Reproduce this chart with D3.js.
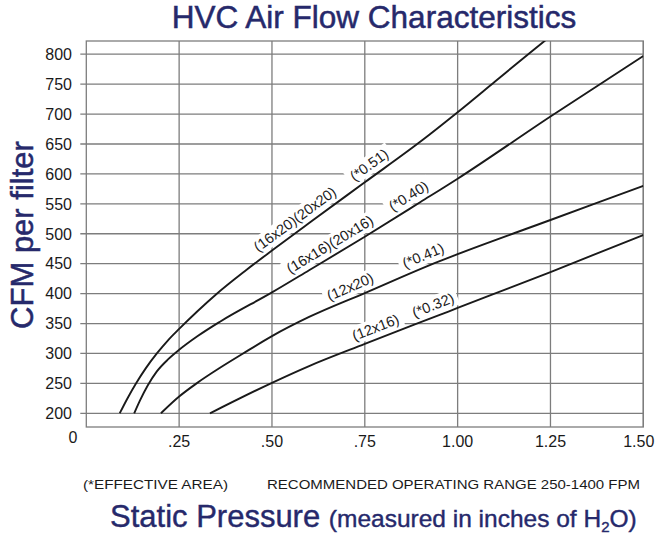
<html>
<head>
<script src="https://cdnjs.cloudflare.com/ajax/libs/d3/7.8.5/d3.min.js"></script>
<style>
    body { margin: 0; background: #fff; }
    svg { display: block; }
    text { font-family: "Liberation Sans", Arial, Helvetica, sans-serif; }
</style>
</head>
<body>
<svg width="657" height="535"></svg>
<script>
// static pressure (in. H2O) vs CFM per filter
const pressureTicks = [0.25, 0.5, 0.75, 1.0, 1.25, 1.5];
const pressureTickLabels = [".25", ".50", ".75", "1.00", "1.25", "1.50"];
const cfmTicks = [200, 250, 300, 350, 400, 450, 500, 550, 600, 650, 700, 750, 800];

const filters = ["(16x20)(20x20)", "(16x16)(20x16)", "(12x20)", "(12x16)"];
const effectiveArea = ["(*0.51)", "(*0.40)", "(*0.41)", "(*0.32)"];

const curve16x20 = [[0.09,200],[0.11,224],[0.135,251],[0.16,275],[0.19,300],[0.22,322],[0.25,341],[0.30,371],[0.35,399],[0.43,439],[0.50,472],[0.60,518],[0.75,586],[0.90,654],[1.00,703],[1.10,754],[1.20,805],[1.26,835]];
const curve16x16 = [[0.129,200],[0.145,222],[0.165,246],[0.19,270],[0.22,290],[0.25,306],[0.30,329],[0.36,353],[0.50,402],[0.60,439],[0.75,495],[0.90,553],[1.00,592],[1.25,696],[1.50,797]];
const curve12x20 = [[0.201,200],[0.25,228],[0.297,250],[0.36,276],[0.42,299],[0.50,329],[0.60,361],[0.75,401],[0.95,454],[1.00,466],[1.25,523],[1.50,580]];
const curve12x16 = [[0.333,200],[0.50,251],[0.60,279],[0.75,316],[0.95,364],[1.00,376],[1.25,436],[1.50,498]];
const curves = [curve16x20, curve16x16, curve12x20, curve12x16];

// where along each curve (pressure) the two labels sit
const filterLabelAt = [0.58, 0.672, 0.723, 0.79];
const areaLabelAt = [0.78, 0.884, 0.919, 0.945];

const navy = "#26296b";
const plotLeft = 86.3, plotRight = 643.3, plotTop = 41, plotBottom = 427;

var svg = d3.select("svg");

var x = d3.scaleLinear().domain([0, 1.5]).range([plotLeft, plotRight]);
var y = d3.scaleLinear().domain([200, 800]).range([413.3, 54.2]);

// title
svg.append("text")
    .attr("x", 374).attr("y", 28)
    .attr("text-anchor", "middle")
    .style("font-size", "31.5px")
    .style("fill", navy).style("stroke", navy).style("stroke-width", 0.5)
    .text("HVC Air Flow Characteristics");

// grid
var grid = svg.append("g");
grid.selectAll(".hline").data(cfmTicks).enter().append("line")
    .attr("x1", plotLeft - 6).attr("x2", plotRight)
    .attr("y1", d => y(d)).attr("y2", d => y(d))
    .style("stroke", "#7d7d7d").style("stroke-width", 1.3);
grid.selectAll(".vline").data(pressureTicks).enter().append("line")
    .attr("x1", d => x(d)).attr("x2", d => x(d))
    .attr("y1", plotTop).attr("y2", plotBottom)
    .style("stroke", "#7d7d7d").style("stroke-width", 1.3);
grid.append("rect")
    .attr("x", plotLeft).attr("y", plotTop)
    .attr("width", plotRight - plotLeft).attr("height", plotBottom - plotTop)
    .style("fill", "none").style("stroke", "#7d7d7d").style("stroke-width", 1.3);

// tick labels
svg.selectAll(".ylab").data(cfmTicks).enter().append("text")
    .attr("x", 72).attr("y", d => y(d)).attr("dy", "0.36em")
    .attr("text-anchor", "end")
    .style("font-size", "16px").style("fill", "#1a1a1a")
    .text(d => d);
svg.append("text")
    .attr("x", 73).attr("y", 443)
    .attr("text-anchor", "middle")
    .style("font-size", "16px").style("fill", "#1a1a1a")
    .text("0");
svg.selectAll(".xlab").data(pressureTicks).enter().append("text")
    .attr("x", (d, i) => i == pressureTicks.length - 1 ? x(d) + 11 : x(d))
    .attr("y", 447)
    .attr("text-anchor", (d, i) => i == pressureTicks.length - 1 ? "end" : "middle")
    .style("font-size", "16px").style("fill", "#1a1a1a")
    .text((d, i) => pressureTickLabels[i]);

var bgLayer = svg.append("g");
var lineLayer = svg.append("g");
var textLayer = svg.append("g");

svg.append("defs").append("clipPath").attr("id", "clip")
    .append("rect")
    .attr("x", plotLeft).attr("y", plotTop)
    .attr("width", plotRight - plotLeft).attr("height", plotBottom - plotTop);

var line = d3.line()
    .x(d => x(d[0]))
    .y(d => y(d[1]))
    .curve(d3.curveMonotoneX);

lineLayer.attr("clip-path", "url(#clip)")
    .selectAll("path").data(curves).enter().append("path")
    .attr("d", line)
    .style("fill", "none")
    .style("stroke", "#1a1a1a")
    .style("stroke-width", 1.9);

function cfmAt(pts, p) {
    for (var i = 1; i < pts.length; i++) {
        if (p <= pts[i][0]) {
            var t = (p - pts[i-1][0]) / (pts[i][0] - pts[i-1][0]);
            return pts[i-1][1] + t * (pts[i][1] - pts[i-1][1]);
        }
    }
    return pts[pts.length-1][1];
}

function addLabel(pts, p, txt) {
    var px = x(p), py = y(cfmAt(pts, p));
    var dx = x(p + 0.05) - x(p - 0.05);
    var dy = y(cfmAt(pts, p + 0.05)) - y(cfmAt(pts, p - 0.05));
    var ang = Math.atan2(dy, dx) * 180 / Math.PI;
    var tr = "translate(" + px + "," + py + ") rotate(" + ang + ")";

    var t = textLayer.append("text")
        .attr("transform", tr)
        .attr("y", -6.5)
        .attr("text-anchor", "middle")
        .style("font-size", "14.5px").style("fill", "#1a1a1a")
        .text(txt);
    var bb = t.node().getBBox();
    bgLayer.append("rect")
        .attr("transform", tr)
        .attr("x", bb.x - 4).attr("y", bb.y - 1)
        .attr("width", bb.width + 8).attr("height", bb.height + 2)
        .style("fill", "#fff");
}

curves.forEach(function(pts, i) {
    addLabel(pts, filterLabelAt[i], filters[i]);
    addLabel(pts, areaLabelAt[i], effectiveArea[i]);
});

// y axis title
svg.append("text")
    .attr("transform", "translate(33,235) rotate(-90)")
    .attr("text-anchor", "middle")
    .style("font-size", "31px")
    .style("fill", navy).style("stroke", navy).style("stroke-width", 0.5)
    .text("CFM per filter");

// notes
svg.append("text")
    .attr("x", 83).attr("y", 489)
    .attr("textLength", 145).attr("lengthAdjust", "spacingAndGlyphs")
    .style("font-size", "13.5px").style("fill", "#1a1a1a")
    .text("(*EFFECTIVE AREA)");
svg.append("text")
    .attr("x", 267).attr("y", 489)
    .attr("textLength", 373).attr("lengthAdjust", "spacingAndGlyphs")
    .style("font-size", "13.5px").style("fill", "#1a1a1a")
    .text("RECOMMENDED OPERATING RANGE 250-1400 FPM");

// x axis title
var xt = svg.append("text")
    .attr("x", 110).attr("y", 527)
    .style("fill", navy).style("stroke", navy).style("stroke-width", 0.4);
xt.append("tspan").style("font-size", "31px").text("Static Pressure ");
xt.append("tspan").style("font-size", "24.5px").text("(measured in inches of H");
xt.append("tspan").style("font-size", "15px").attr("dy", 5).text("2");
xt.append("tspan").style("font-size", "24.5px").attr("dy", -5).text("O)");
</script>
</body>
</html>
